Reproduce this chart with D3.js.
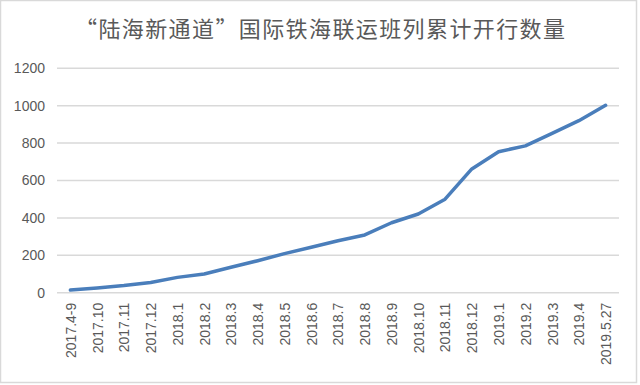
<!DOCTYPE html>
<html>
<head>
<meta charset="utf-8">
<script src="https://cdnjs.cloudflare.com/ajax/libs/d3/7.8.5/d3.min.js"></script>
<style>
  html, body { margin: 0; padding: 0; background: #fff; }
  svg { display: block; }
  .axis text { font-family: "Liberation Sans", Arial, sans-serif; font-size: 14px; fill: #595959; }
</style>
</head>
<body>
<svg id="chart" width="640" height="385"></svg>
<script>
const categories = ["2017.4-9", "2017.10", "2017.11", "2017.12", "2018.1", "2018.2", "2018.3",
  "2018.4", "2018.5", "2018.6", "2018.7", "2018.8", "2018.9", "2018.10", "2018.11", "2018.12",
  "2019.1", "2019.2", "2019.3", "2019.4", "2019.5.27"];
const counts = [14, 25, 38, 55, 82, 100, 136, 171, 209, 243, 278, 309, 374, 421, 500, 662,
  754, 785, 852, 920, 1002];
const yTicks = [0, 200, 400, 600, 800, 1000, 1200];
const title = "“陆海新通道”国际铁海联运班列累计开行数量";

const W = 640, H = 385;
const svg = d3.select("#chart");

// outer frame
svg.append("rect")
  .attr("x", 0.5).attr("y", 0.5)
  .attr("width", W - 4).attr("height", H - 3)
  .attr("fill", "#fff")
  .attr("stroke", "#d9d9d9")
  .attr("stroke-width", 1.5);

svg.append("text")
  .attr("x", 320)
  .attr("y", 37)
  .attr("text-anchor", "middle")
  .attr("font-family", "'Noto Sans CJK SC', sans-serif")
  .attr("font-size", 22)
  .attr("fill", "#595959")
  .attr("textLength", 490)
  .text(title);

const plotL = 57, plotR = 619, plotT = 68.3, plotB = 292.7;

const x = d3.scalePoint().domain(categories).range([plotL, plotR]).padding(0.5);
const y = d3.scaleLinear().domain([0, 1200]).range([plotB, plotT]);

// grid
svg.append("g")
  .selectAll("line")
  .data(yTicks)
  .join("line")
  .attr("x1", plotL).attr("x2", plotR)
  .attr("y1", d => y(d)).attr("y2", d => y(d))
  .attr("stroke", "#d9d9d9")
  .attr("stroke-width", 1.5);

// y axis labels
const yAxis = svg.append("g")
  .attr("class", "axis")
  .attr("transform", `translate(${plotL - 12},0)`)
  .call(d3.axisLeft(y).tickValues(yTicks).tickFormat(d3.format("d")).tickSize(0).tickPadding(0));
yAxis.select(".domain").remove();

// x axis labels
const xAxis = svg.append("g")
  .attr("class", "axis")
  .attr("transform", `translate(0,${plotB})`)
  .call(d3.axisBottom(x).tickSize(0));
xAxis.select(".domain").remove();
xAxis.selectAll("text")
  .attr("transform", "rotate(-90)")
  .attr("text-anchor", "end")
  .attr("x", -10)
  .attr("y", 0)
  .attr("dy", "0.35em");

// line
const line = d3.line()
  .x((d, i) => x(categories[i]))
  .y(d => y(d));

svg.append("path")
  .datum(counts)
  .attr("fill", "none")
  .attr("stroke", "#4a7ebb")
  .attr("stroke-width", 3.5)
  .attr("stroke-linejoin", "round")
  .attr("stroke-linecap", "round")
  .attr("d", line);
</script>
</body>
</html>
